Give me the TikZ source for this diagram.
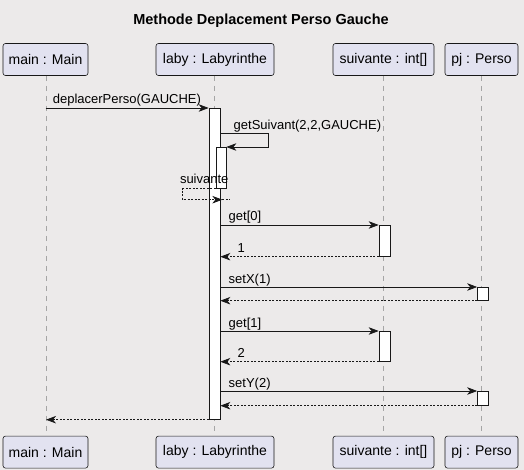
\documentclass[tikz,border=0pt]{standalone}
\usepackage{fontspec}
\setmainfont{Liberation Sans}
\usepackage{tikz}
\usetikzlibrary{shapes, arrows.meta, positioning, calc}
\definecolor{umlbg}{RGB}{236, 234, 234}
\definecolor{umlbox}{RGB}{226, 226, 240}
\definecolor{umlline}{RGB}{24, 24, 24}
\definecolor{umllife}{RGB}{165, 165, 165}

\tikzset{
  actor/.style={draw=umlline, fill=umlbox, rounded corners=2.5pt, line width=0.6pt,
                minimum height=32pt, inner sep=0pt, font=\fontsize{14}{16}\selectfont},
  life/.style={draw=umllife, line width=0.7pt, dash pattern=on 5pt off 5pt},
  act/.style={draw=umlline, fill=white, line width=0.7pt, minimum width=11pt,
              inner sep=0pt, anchor=north},
  call/.style={draw=umlline, line width=0.7pt,
               -{Stealth[length=10pt, width=7.5pt, inset=3pt]}},
  reply/.style={call, dash pattern=on 2pt off 1.5pt},
  lbl/.style={font=\fontsize{13}{15}\selectfont, inner sep=0pt, anchor=base west},
}

\begin{document}
\begin{tikzpicture}[x=1pt, y=-1pt]
  \fill[umlbg] (0,0) rectangle (524,470);
  \useasboundingbox (0,0) rectangle (524,470);

  \node[font=\bfseries\fontsize{14.5}{17}\selectfont] (title) at (261,21)
    {Methode Deplacement Perso Gauche};

  % participants
  \node[actor, minimum width=85pt]  (mainT) at (45.5,59.5)  {main : Main};
  \node[actor, minimum width=118pt] (labyT) at (215,59.5)   {laby : Labyrinthe};
  \node[actor, minimum width=101pt] (suivT) at (383.5,59.5) {suivante : int[]};
  \node[actor, minimum width=73pt]  (pjT)   at (481.5,59.5) {pj : Perso};

  \node[actor, minimum width=85pt]  (mainB) [below=360pt of mainT] {main : Main};
  \node[actor, minimum width=118pt] (labyB) [below=360pt of labyT] {laby : Labyrinthe};
  \node[actor, minimum width=101pt] (suivB) [below=360pt of suivT] {suivante : int[]};
  \node[actor, minimum width=73pt]  (pjB)   [below=360pt of pjT]   {pj : Perso};

  % lifelines
  \draw[life] ([xshift=0.5pt]mainT.south) -- ([xshift=0.5pt]mainB.north);
  \draw[life] ([xshift=-0.5pt]labyT.south) -- ([xshift=-0.5pt]labyB.north);
  \draw[life] (suivT) -- (suivB);
  \draw[life] (pjT) -- (pjB);

  % activations
  \node[act, minimum height=311pt] (labyA) at (214.5,108) {};
  \node[act, minimum height=41pt, minimum width=10pt] (labyN) at (221,147) {};
  \node[act, minimum height=31pt] (suivA) at (384.5,225) {};
  \node[act, minimum height=30pt] (suivC) at (384.5,331) {};
  \node[act, minimum height=13pt] (pjA) at (483,287) {};
  \node[act, minimum height=14pt] (pjC) at (483,391) {};

  \coordinate (gs) at ($(labyA.north east)+(0,25)$);
  \coordinate (svTip) at ($(labyN.south east)+(-4,11)$);

  % messages
  \draw[call] (mainT |- labyA.north) -- (labyA.north west)
    node[lbl, pos=0, xshift=7pt, yshift=4pt] {deplacerPerso(GAUCHE)};
  \draw[call] (gs) -- ++(48,0) node[lbl, pos=0, xshift=13pt, yshift=3pt] {getSuivant(2,2,GAUCHE)}
    |- (labyN.north east);
  \draw[reply] (labyN.south west) -- ++(-33,0)
    node[lbl, pos=0, xshift=-36pt, yshift=5pt] {suivante} |- (svTip);
  \draw[reply, -] (svTip) -- ++(8,0);

  \draw[call] (labyA.east |- suivA.north) -- (suivA.north west)
    node[lbl, pos=0, xshift=8pt, yshift=4pt] {get[0]};
  \draw[reply] (suivA.south west) -- (labyA.east |- suivA.south)
    node[lbl, pos=1, xshift=17pt, yshift=4pt] {1};
  \draw[call] (labyA.east |- pjA.north) -- (pjA.north west)
    node[lbl, pos=0, xshift=8pt, yshift=4pt] {setX(1)};
  \draw[reply] (pjA.south west) -- (labyA.east |- pjA.south);

  \draw[call] (labyA.east |- suivC.north) -- (suivC.north west)
    node[lbl, pos=0, xshift=8pt, yshift=4pt] {get[1]};
  \draw[reply] (suivC.south west) -- (labyA.east |- suivC.south)
    node[lbl, pos=1, xshift=17pt, yshift=4pt] {2};
  \draw[call] (labyA.east |- pjC.north) -- (pjC.north west)
    node[lbl, pos=0, xshift=8pt, yshift=4pt] {setY(2)};
  \draw[reply] (pjC.south west) -- (labyA.east |- pjC.south);

  \draw[reply] (labyA.south west) -- ([xshift=0.5pt]mainT.south |- labyA.south);
\end{tikzpicture}
\end{document}
